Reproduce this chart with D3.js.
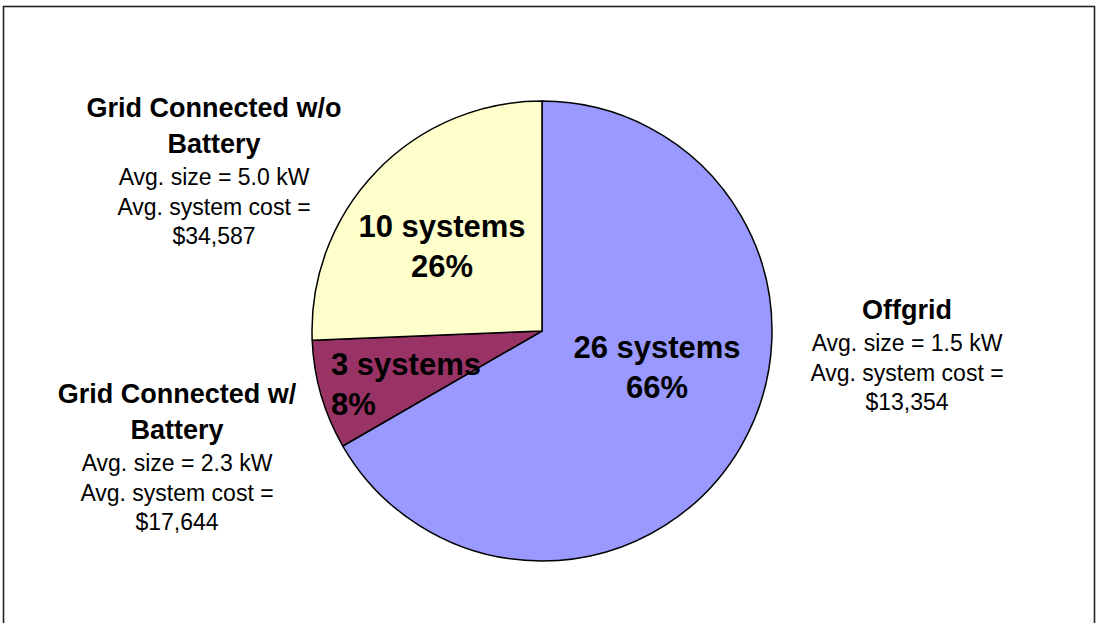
<!DOCTYPE html>
<html>
<head>
<meta charset="utf-8">
<script src="https://cdn.jsdelivr.net/npm/d3@7/dist/d3.min.js"></script>
<style>
  body { margin: 0; background: #fff; }
  text { font-family: "Liberation Sans", Arial, sans-serif; fill: #000; }
</style>
</head>
<body>
<div id="chart"></div>
<script>
// data
var categories = ["Offgrid", "Grid Connected w/ Battery", "Grid Connected w/o Battery"];
var titleLines = [["Offgrid"], ["Grid Connected w/", "Battery"], ["Grid Connected w/o", "Battery"]];
var systems = [26, 3, 10];
var percentLabels = ["66%", "8%", "26%"];
var avgSize = ["1.5 kW", "2.3 kW", "5.0 kW"];
var avgCost = ["$13,354", "$17,644", "$34,587"];
var colors = ["#9999FF", "#993366", "#FFFFCC"];

var width = 1096, height = 623;
var cx = 542, cy = 331, radius = 230;

// label placement (Excel puts these by hand, so keep them here)
var outerPos = [{x: 907, y: 319}, {x: 177, y: 403}, {x: 214, y: 117}];
var innerPos = [{x: 657, y: 358, anchor: "middle"},
                {x: 331, y: 375, anchor: "start"},
                {x: 442, y: 237, anchor: "middle"}];

var svg = d3.select("#chart")
    .append("svg")
    .attr("width", width)
    .attr("height", height);

// chart frame
svg.append("rect")
    .attr("x", 3.5)
    .attr("y", 6.5)
    .attr("width", 1091)
    .attr("height", 700)
    .attr("fill", "none")
    .attr("stroke", "#222")
    .attr("stroke-width", 1.6);

var pie = d3.pie().sort(null).value(function (d) { return d; });
var arc = d3.arc().innerRadius(0).outerRadius(radius);

var g = svg.append("g")
    .attr("transform", "translate(" + cx + "," + cy + ")");

g.selectAll("path")
    .data(pie(systems))
    .enter().append("path")
    .attr("d", arc)
    .attr("fill", function (d, i) { return colors[i]; })
    .attr("stroke", "#000")
    .attr("stroke-width", 1.5)
    .attr("stroke-linejoin", "round");

// labels inside the slices
systems.forEach(function (n, i) {
    var p = innerPos[i];
    var t = svg.append("text")
        .attr("x", p.x)
        .attr("y", p.y)
        .attr("text-anchor", p.anchor)
        .attr("font-size", "31px")
        .attr("font-weight", "bold");
    t.append("tspan").attr("x", p.x).text(n + " systems");
    t.append("tspan").attr("x", p.x).attr("dy", 40).text(percentLabels[i]);
});

// category blocks outside the pie
categories.forEach(function (c, i) {
    var p = outerPos[i];
    var t = svg.append("text")
        .attr("x", p.x)
        .attr("y", p.y)
        .attr("text-anchor", "middle");
    titleLines[i].forEach(function (line, j) {
        t.append("tspan")
            .attr("x", p.x)
            .attr("dy", j === 0 ? 0 : 36)
            .attr("font-size", "27px")
            .attr("font-weight", "bold")
            .text(line);
    });
    var rest = ["Avg. size = " + avgSize[i], "Avg. system cost =", avgCost[i]];
    rest.forEach(function (line, j) {
        t.append("tspan")
            .attr("x", p.x)
            .attr("dy", j === 0 ? 32 : 29.5)
            .attr("font-size", "23px")
            .text(line);
    });
});
</script>
</body>
</html>
